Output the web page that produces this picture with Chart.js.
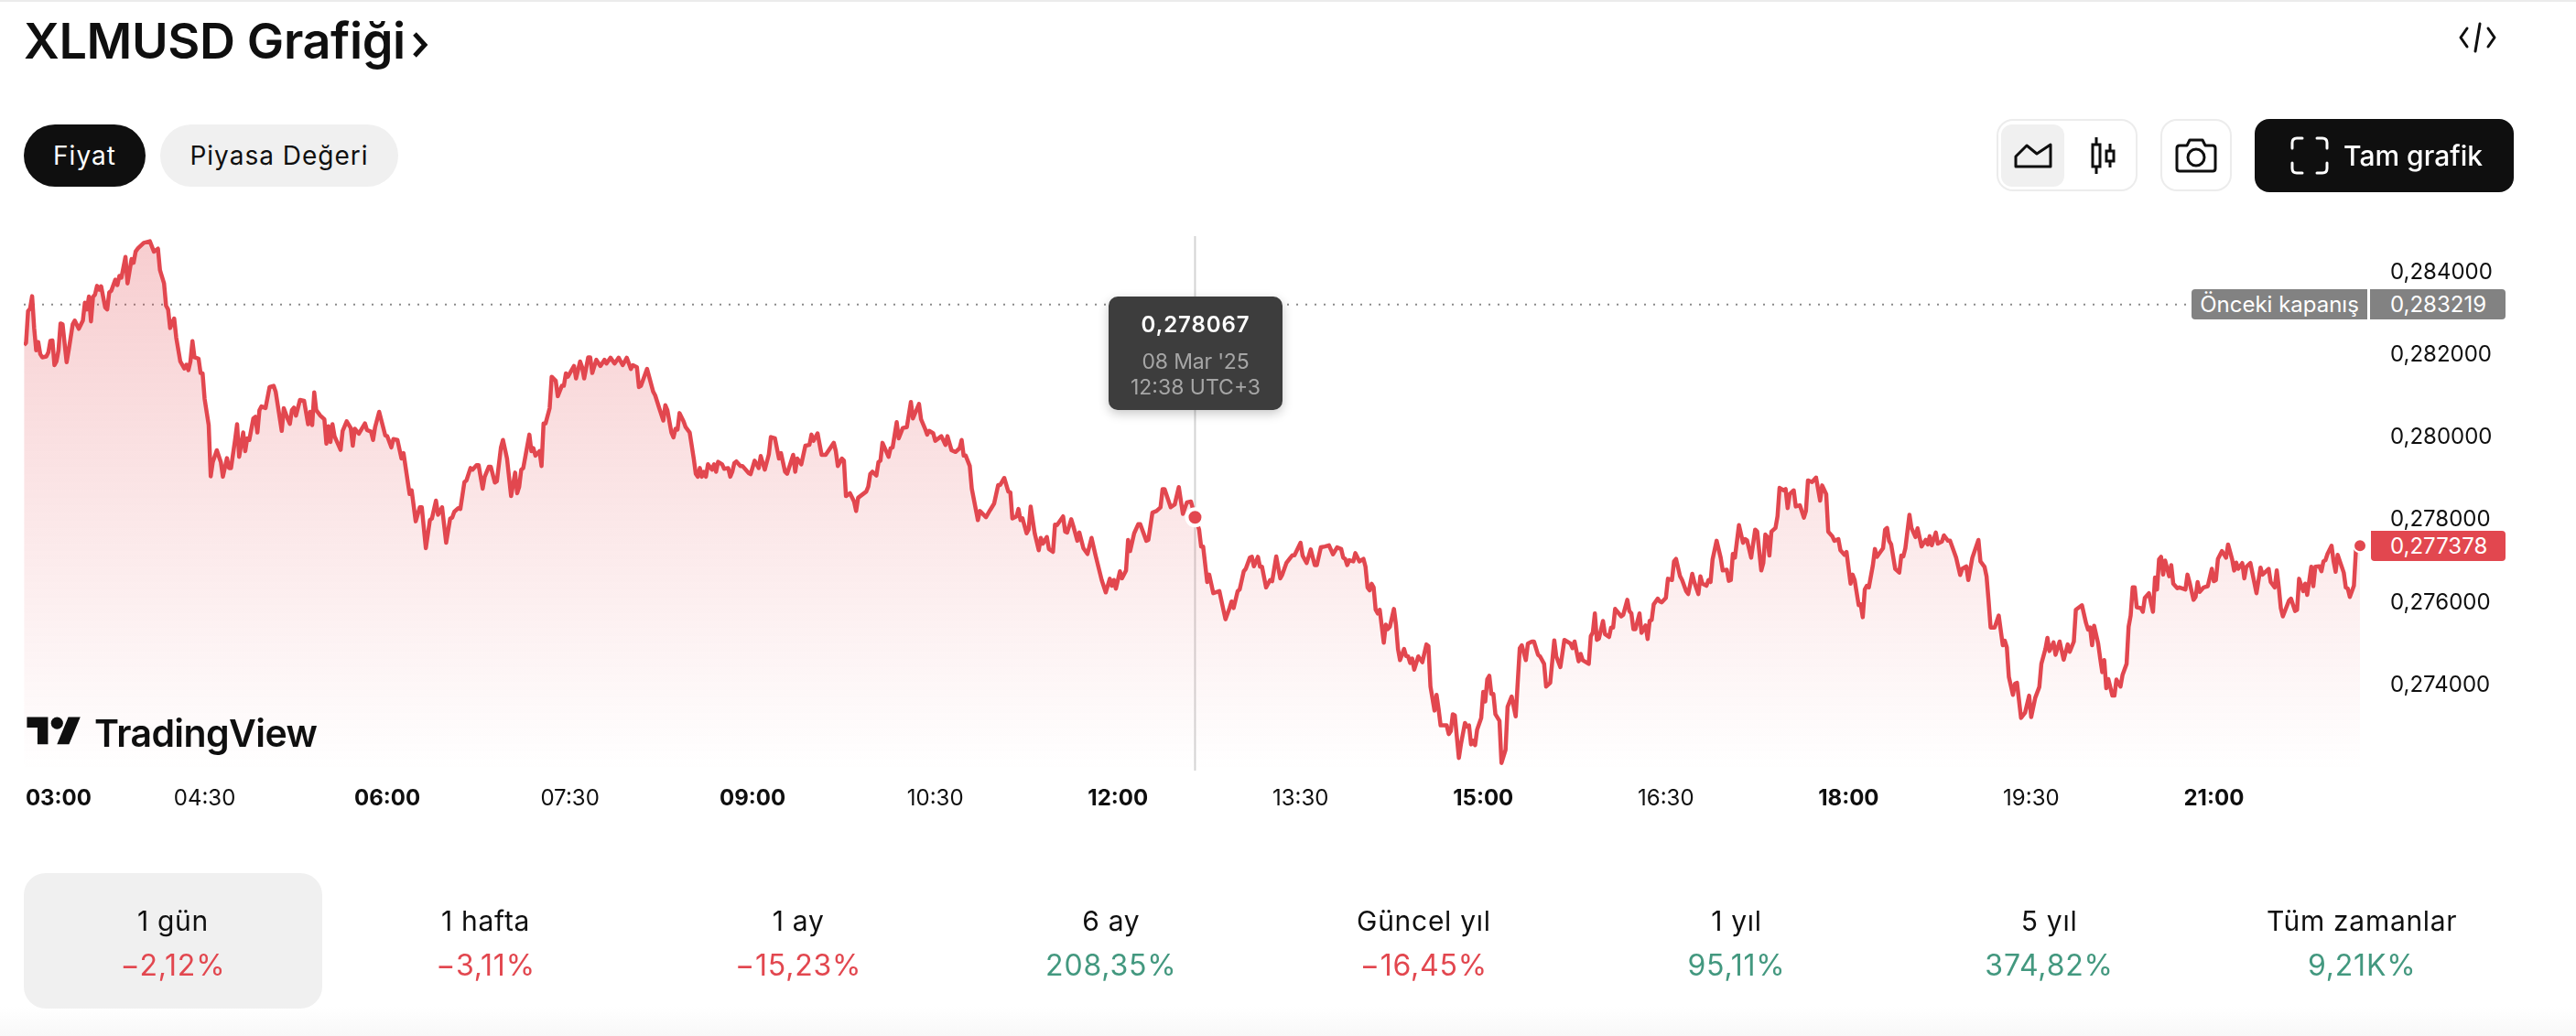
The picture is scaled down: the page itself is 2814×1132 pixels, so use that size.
<!DOCTYPE html>
<html lang="tr">
<head>
<meta charset="utf-8">
<title>XLMUSD Grafiği</title>
<script src="https://cdn.jsdelivr.net/npm/chart.js@4"></script>
<style>
html, body { margin: 0; padding: 0; background: #fff; }
body { position: relative; width: 2814px; height: 1132px; overflow: hidden; font-family: Inter, sans-serif; color: #0f0f0f; }
canvas { position: absolute; left: 0; top: 0; }
.abs { position: absolute; box-sizing: border-box; }
.topline { left: 0; top: 0; width: 2814px; height: 2px; background: #ebebeb; }
.bottomfade { left: 0; top: 1100px; width: 2814px; height: 32px; background: linear-gradient(#fff, #f8f8f8); }
.title { left: 26px; top: 10px; font-size: 54px; line-height: 70px; font-weight: 600; letter-spacing: -0.4px; white-space: nowrap; }
.pill { top: 136px; height: 68px; border-radius: 34px; font-size: 28px; line-height: 68px; letter-spacing: 1px; text-align: center; }
.pill.on { left: 26px; width: 133px; background: #0f0f0f; color: #fff; }
.pill.off { left: 175px; width: 260px; background: #f0f0f0; }
.frame { top: 130px; height: 79px; border: 2px solid #ececec; border-radius: 18px; background: #fff; }
.selected { left: 2186px; top: 136px; width: 69px; height: 68px; border-radius: 12px; background: #f0f0f0; }
.full { left: 2463px; top: 130px; width: 283px; height: 80px; border-radius: 16px; background: #0f0f0f; }
.fulltext { left: 2560px; top: 130px; height: 80px; line-height: 80px; font-size: 30px; font-weight: 500; color: #fff; white-space: nowrap; }
.logotext { left: 103px; top: 773px; font-size: 41px; line-height: 56px; font-weight: 600; letter-spacing: -0.6px; color: #0f0f0f; }
.badge { height: 33px; line-height: 33px; font-size: 24px; color: #fff; white-space: nowrap; }
.tip { left: 1211px; top: 324px; width: 190px; height: 124px; border-radius: 10px; background: #3d3d3d; box-shadow: 0 4px 12px rgba(0,0,0,.22); text-align: center; }
.tip div { position: absolute; left: 0; width: 100%; white-space: nowrap; }
.tab { top: 954px; width: 326px; height: 148px; border-radius: 24px; text-align: center; }
.tab .name { position: absolute; top: 34px; width: 100%; font-size: 30px; line-height: 36px; letter-spacing: .7px; }
.tab .pct { position: absolute; top: 83px; width: 100%; font-size: 32px; line-height: 36px; letter-spacing: .8px; }
</style>
</head>
<body>
<div class="abs bottomfade"></div>
<canvas id="priceChart" width="2814" height="1132"></canvas>
<div class="abs topline"></div>

<div class="abs title">XLMUSD Grafiği</div>
<svg class="abs" style="left:450px;top:34px" width="18" height="30" viewBox="0 0 18 30"><path d="M3 3l11 12L3 27" fill="none" stroke="#0f0f0f" stroke-width="5"/></svg>
<svg class="abs" style="left:2686px;top:24px" width="41" height="34" viewBox="0 0 41 34" fill="none" stroke="#0f0f0f" stroke-width="3" stroke-linecap="round" stroke-linejoin="round"><path d="M9 7L2 17l7 10M32 7l7 10-7 10M23 2l-5 30"/></svg>

<div class="abs pill on">Fiyat</div>
<div class="abs pill off">Piyasa Değeri</div>

<div class="abs frame" style="left:2181px;width:154px"></div>
<div class="abs selected"></div>
<svg class="abs" style="left:2200px;top:156px" width="42" height="28" viewBox="0 0 42 28" fill="none" stroke="#0f0f0f" stroke-width="3" stroke-linejoin="round"><path d="M2 26V15L14 3l11 9L40 2v24z"/></svg>
<svg class="abs" style="left:2282px;top:149px" width="30" height="42" viewBox="0 0 30 42" fill="none" stroke="#0f0f0f" stroke-width="3"><path d="M8 1v8M8 33v8M23 8v8M23 27v7"/><rect x="4" y="9" width="8" height="24"/><rect x="19" y="16" width="8" height="11"/></svg>
<div class="abs frame" style="left:2360px;width:78px"></div>
<svg class="abs" style="left:2376px;top:151px" width="46" height="38" viewBox="0 0 46 38" fill="none" stroke="#0f0f0f" stroke-width="3" stroke-linejoin="round"><path d="M2 11q0-3 3-3h8l3-6h14l3 6h8q3 0 3 3v22q0 3-3 3H5q-3 0-3-3z"/><ellipse cx="23" cy="21" rx="9" ry="9"/></svg>
<div class="abs full"></div>
<svg class="abs" style="left:2502px;top:149px" width="42" height="42" viewBox="0 0 42 42" fill="none" stroke="#fff" stroke-width="3" stroke-linecap="round"><path d="M2 13V7q0-5 5-5h6M29 2h6q5 0 5 5v6M40 29v6q0 5-5 5h-6M13 40H7q-5 0-5-5v-6"/></svg>
<div class="abs fulltext">Tam grafik</div>

<svg class="abs" style="left:29px;top:777px" width="60" height="46" viewBox="0 0 36 28" fill="#0f0f0f"><path d="M14 22H7V11H0V4h14v18zM28 22h-8l7.5-18h8L28 22z"/><circle cx="20" cy="8" r="4"/></svg>
<div class="abs logotext">TradingView</div>

<div class="abs badge" style="left:2394px;top:316px;width:192px;background:#828282;border-radius:4px 0 0 4px;text-align:center">Önceki kapanış</div>
<div class="abs badge" style="left:2589px;top:316px;width:148px;background:#828282;border-radius:0 4px 4px 0;padding-left:22px">0,283219</div>
<div class="abs badge" style="left:2590px;top:580px;width:147px;background:#e2474f;border-radius:0 4px 4px 4px;padding-left:21px">0,277378</div>

<div class="abs tip">
  <div style="top:17px;font-size:24px;line-height:28px;font-weight:600;color:#fff;letter-spacing:.9px">0,278067</div>
  <div style="top:57px;font-size:23px;line-height:28px;color:#a6a6a6;letter-spacing:-.2px">08 Mar '25</div>
  <div style="top:85px;font-size:23px;line-height:28px;color:#a6a6a6">12:38 UTC+3</div>
</div>

<div id="tabs"></div>

<script>
// minutes after 03:00 and price
const minutesA = [1,2,3,4,5,6,7,8,9,10,12,13,14,15,16,17,18,19,20,22,23,25,26,28,30,31,32,33,34,35,36,37,38,39,41,42,43,44,46,47,48,49,51,52,54,55,56,57,60,63,65,67,68,70,71,72,73,75,76,78,80,81,82,83,84,85,87,88,89,90,92,93,94,96,98,99,101,102,103,105,106,107,109,110,111,112,114,115,116,117,118,120,122,124,125,128,129,131,132,133,134,135,137,139,141,142,143,144,145,147,149,150,151,152,153,154,157,158,160,162,163,164,166,169,170,172,173,174,176,179,180,182,183,185,187,188,191,192,194,196,197,199,201,202,204,205,207,209,211,212,213,215,216,218,219,221,222,224,225,227,228,230,231,233,234,236,237,239,241,243,244,245,246,247,250,251,252,253,255,256,257,258,260,261,263,264,266,267,268,269,270,272,273,275,276,277,279,280,281,283,285,287,288,290,292,294,296,298,300,301,303,304];
const pricesA = [0.28224,0.28229,0.28306,0.28312,0.28342,0.28265,0.28211,0.28231,0.28202,0.28194,0.28196,0.28206,0.28234,0.28235,0.28175,0.28184,0.28211,0.28276,0.28274,0.28182,0.28211,0.28274,0.28283,0.28263,0.28283,0.28326,0.28310,0.28341,0.28281,0.28340,0.28346,0.28367,0.28358,0.28366,0.28315,0.28310,0.28351,0.28355,0.28382,0.28369,0.28391,0.28387,0.28437,0.28373,0.28432,0.28423,0.28450,0.28457,0.28471,0.28475,0.28450,0.28457,0.28405,0.28373,0.28319,0.28310,0.28265,0.28288,0.28242,0.28184,0.28167,0.28176,0.28163,0.28184,0.28233,0.28194,0.28191,0.28156,0.28155,0.28093,0.28030,0.27906,0.27940,0.27969,0.27940,0.27905,0.27950,0.27926,0.27926,0.27994,0.28032,0.27953,0.28012,0.27967,0.27998,0.27994,0.28046,0.28050,0.28012,0.28066,0.28075,0.28071,0.28122,0.28125,0.28111,0.28016,0.28071,0.28044,0.28033,0.28066,0.28072,0.28053,0.28091,0.28089,0.28032,0.28062,0.28030,0.28109,0.28066,0.28053,0.28044,0.27985,0.28027,0.27989,0.28032,0.28003,0.27970,0.28016,0.28039,0.28023,0.27980,0.28021,0.28009,0.28034,0.28018,0.28014,0.27994,0.28025,0.28062,0.28005,0.28003,0.27976,0.27996,0.27994,0.27949,0.27962,0.27863,0.27872,0.27797,0.27831,0.27831,0.27732,0.27800,0.27804,0.27847,0.27813,0.27831,0.27745,0.27804,0.27806,0.27820,0.27829,0.27827,0.27892,0.27896,0.27926,0.27922,0.27933,0.27933,0.27876,0.27905,0.27929,0.27929,0.27891,0.27894,0.27976,0.27994,0.27949,0.27858,0.27915,0.27865,0.27881,0.27922,0.27926,0.28007,0.27967,0.27974,0.27956,0.27967,0.27931,0.28034,0.28034,0.28071,0.28147,0.28137,0.28100,0.28125,0.28125,0.28155,0.28147,0.28156,0.28173,0.28143,0.28184,0.28170,0.28143,0.28194,0.28194,0.28156,0.28188,0.28173,0.28188,0.28179,0.28193,0.28179,0.28193,0.28175,0.28193,0.28166,0.28175,0.28170,0.28122];

const minutesB = [305,308,311,312,314,316,317,318,320,321,322,323,324,326,327,329,331,332,333,334,335,336,337,338,340,341,342,343,345,346,348,349,350,351,352,354,355,358,359,361,363,364,366,368,369,371,373,374,376,377,380,381,382,384,386,388,389,390,392,394,396,400,401,402,404,405,406,408,410,411,412,416,417,418,419,421,422,423,424,427,428,429,431,432,434,436,438,439,442,443,445,446,447,449,450,453,455,456,458,460,462,463,464,465,467,468,471,472,475,477,479,481,482,484,486,487,488,490,491,492,493,495,496,497,499,501,502,503,505,506,508,509,510,513,514,515,517,518,520,521,523,525,527,529,532,534,536,537,538,539,541,542,544,545,546,548,550,551,554,555,557,559,561,562,563,566,568,570,572,574,576,578,580,581,582,584,585,587,590,591,593,595,596,597,599,600,602,603,605,606,607,609,610,611,613,615,616,618,620];
const pricesB = [0.28125,0.28166,0.28111,0.28102,0.28071,0.28041,0.28078,0.28066,0.28012,0.28000,0.28021,0.28019,0.28059,0.28039,0.28025,0.28012,0.27949,0.27912,0.27905,0.27926,0.27905,0.27917,0.27905,0.27935,0.27922,0.27935,0.27917,0.27941,0.27935,0.27924,0.27926,0.27905,0.27917,0.27938,0.27942,0.27931,0.27931,0.27914,0.27911,0.27944,0.27926,0.27955,0.27922,0.27959,0.28001,0.27998,0.27949,0.27962,0.27917,0.27912,0.27958,0.27917,0.27949,0.27935,0.27980,0.27982,0.28007,0.27992,0.28010,0.27958,0.27958,0.27987,0.27967,0.27931,0.27949,0.27944,0.27858,0.27865,0.27845,0.27822,0.27854,0.27869,0.27881,0.27912,0.27917,0.27908,0.27940,0.27944,0.27987,0.27953,0.27974,0.27976,0.28037,0.27998,0.28023,0.28025,0.28086,0.28046,0.28081,0.28044,0.28021,0.28007,0.28016,0.28010,0.27992,0.28003,0.27982,0.28003,0.27969,0.27965,0.27974,0.27994,0.27956,0.27956,0.27931,0.27876,0.27800,0.27822,0.27807,0.27824,0.27840,0.27885,0.27885,0.27902,0.27869,0.27867,0.27804,0.27809,0.27827,0.27800,0.27804,0.27768,0.27777,0.27833,0.27768,0.27727,0.27757,0.27743,0.27759,0.27730,0.27723,0.27789,0.27788,0.27809,0.27772,0.27770,0.27802,0.27786,0.27750,0.27770,0.27732,0.27718,0.27757,0.27714,0.27655,0.27625,0.27658,0.27641,0.27655,0.27634,0.27676,0.27659,0.27678,0.27752,0.27725,0.27768,0.27790,0.27790,0.27750,0.27752,0.27818,0.27822,0.27831,0.27875,0.27875,0.27831,0.27838,0.27880,0.27815,0.27843,0.27845,0.278067,0.27777,0.27736,0.27736,0.27650,0.27668,0.27623,0.27628,0.27605,0.27560,0.27587,0.27603,0.27587,0.27628,0.27632,0.27676,0.27682,0.27709,0.27711,0.27688,0.27711,0.27687,0.27687,0.27637,0.27655,0.27652,0.27712,0.27659];

const minutesC = [621,623,625,626,627,630,631,633,635,637,638,640,642,644,646,648,650,651,652,653,654,656,657,659,661,662,663,664,665,666,667,668,669,671,672,673,674,676,677,678,679,681,682,683,684,685,686,688,690,692,693,694,696,697,698,699,702,703,704,705,706,708,709,711,712,713,714,715,716,717,719,720,721,722,723,724,725,726,728,729,731,732,734,736,738,739,741,742,744,745,747,748,750,751,753,755,756,758,760,763,764,765,767,768,769,772,773,774,775,776,777,779,780,782,783,784,785,788,789,791,792,793,794,795,797,798,800,801,802,803,804,806,807,808,810,811,813,814,815,817,818,820,821,823,824,826,827,828,830,831,832,833,835,837,838,840,841,842,843,844,846,848,849,850,852,854,855,857,858,859,860,861,862,864,865,866,868,869,870,871,873,874,876,878,879,880,882,884,886,887,889,890,892,893,895,896,898,899,901,902,903,905,906,907,908,909,910,912,913,914,915,917,918,919,920,921,923,925,926,927,928,930,931,933,934,936];
const pricesC = [0.27668,0.27696,0.27709,0.27715,0.27715,0.27745,0.27714,0.27696,0.27729,0.27691,0.27691,0.27734,0.27736,0.27739,0.27717,0.27734,0.27730,0.27709,0.27706,0.27691,0.27703,0.27700,0.27720,0.27700,0.27706,0.27687,0.27637,0.27630,0.27646,0.27637,0.27583,0.27574,0.27583,0.27503,0.27547,0.27536,0.27542,0.27585,0.27547,0.27488,0.27461,0.27488,0.27471,0.27470,0.27454,0.27465,0.27438,0.27470,0.27456,0.27499,0.27495,0.27397,0.27339,0.27377,0.27343,0.27303,0.27303,0.27282,0.27289,0.27330,0.27327,0.27224,0.27257,0.27309,0.27300,0.27303,0.27257,0.27266,0.27255,0.27293,0.27321,0.27384,0.27361,0.27415,0.27423,0.27379,0.27379,0.27330,0.27314,0.27212,0.27244,0.27348,0.27373,0.27325,0.27490,0.27497,0.27461,0.27501,0.27506,0.27506,0.27474,0.27470,0.27452,0.27397,0.27406,0.27509,0.27470,0.27444,0.27510,0.27501,0.27490,0.27506,0.27458,0.27476,0.27461,0.27452,0.27519,0.27528,0.27574,0.27510,0.27513,0.27556,0.27524,0.27517,0.27540,0.27540,0.27585,0.27567,0.27571,0.27607,0.27580,0.27574,0.27536,0.27536,0.27574,0.27527,0.27545,0.27512,0.27556,0.27558,0.27596,0.27610,0.27603,0.27601,0.27612,0.27658,0.27655,0.27700,0.27706,0.27664,0.27655,0.27628,0.27621,0.27670,0.27650,0.27621,0.27664,0.27646,0.27641,0.27655,0.27650,0.27705,0.27750,0.27709,0.27678,0.27680,0.27653,0.27655,0.27718,0.27709,0.27788,0.27745,0.27754,0.27751,0.27709,0.27777,0.27772,0.27678,0.27696,0.27765,0.27759,0.27714,0.27772,0.27781,0.27809,0.27878,0.27872,0.27875,0.27829,0.27863,0.27872,0.27833,0.27836,0.27806,0.27822,0.27896,0.27892,0.27903,0.27847,0.27884,0.27863,0.27772,0.27761,0.27750,0.27754,0.27727,0.27716,0.27723,0.27646,0.27668,0.27655,0.27594,0.27596,0.27565,0.27632,0.27641,0.27637,0.27691,0.27730,0.27711,0.27718,0.27732,0.27777,0.27781,0.27750,0.27741,0.27682,0.27673,0.27714,0.27712,0.27732,0.27813,0.27781,0.27759,0.27780,0.27736];

const minutesD = [938,939,940,941,943,944,946,947,949,950,952,953,955,956,958,959,961,964,965,967,968,969,970,972,974,976,977,978,979,981,982,983,985,987,989,990,992,994,995,997,998,999,1001,1002,1004,1006,1008,1009,1011,1012,1015,1017,1018,1019,1020,1021,1023,1024,1025,1026,1027,1028,1030,1031,1032,1034,1035,1037,1038,1039,1040,1041,1042,1044,1045,1046,1048,1050,1051,1052,1053,1054,1055,1056,1058,1059,1060,1062,1063,1066,1067,1068,1070,1071,1072,1073,1075,1077,1079,1080,1081,1082,1084,1086,1087,1089,1090,1091,1092,1094,1095,1096,1098,1101,1103,1104,1107,1108,1110,1111,1112,1113,1114,1117,1118,1120,1121,1122,1124,1125,1126,1128,1129,1130,1132,1133,1134,1135,1136,1138,1139,1140,1141,1144,1145,1146,1147,1149,1150,1152];
const pricesD = [0.27752,0.27741,0.27761,0.27739,0.27770,0.27743,0.27748,0.27763,0.27750,0.27750,0.27723,0.27709,0.27667,0.27682,0.27688,0.27655,0.27709,0.27752,0.27700,0.27687,0.27664,0.27605,0.27540,0.27540,0.27569,0.27497,0.27508,0.27492,0.27420,0.27377,0.27404,0.27406,0.27321,0.27334,0.27375,0.27323,0.27370,0.27396,0.27452,0.27488,0.27515,0.27483,0.27504,0.27474,0.27506,0.27462,0.27499,0.27481,0.27506,0.27583,0.27594,0.27551,0.27535,0.27540,0.27497,0.27544,0.27501,0.27465,0.27432,0.27461,0.27393,0.27415,0.27375,0.27375,0.27414,0.27397,0.27425,0.27452,0.27542,0.27569,0.27637,0.27637,0.27589,0.27587,0.27578,0.27612,0.27623,0.27578,0.27661,0.27632,0.27705,0.27711,0.27668,0.27702,0.27664,0.27691,0.27646,0.27635,0.27637,0.27632,0.27668,0.27650,0.27607,0.27614,0.27650,0.27626,0.27637,0.27640,0.27682,0.27652,0.27655,0.27706,0.27725,0.27709,0.27741,0.27705,0.27678,0.27697,0.27682,0.27696,0.27659,0.27687,0.27696,0.27623,0.27685,0.27668,0.27682,0.27650,0.27637,0.27678,0.27637,0.27587,0.27567,0.27605,0.27610,0.27580,0.27583,0.27658,0.27628,0.27646,0.27619,0.27687,0.27640,0.27687,0.27688,0.27676,0.27700,0.27703,0.27718,0.27738,0.27700,0.27675,0.27716,0.27673,0.27637,0.27634,0.27614,0.27641,0.27727,0.277378];

const minutes = minutesA.concat(minutesB, minutesC, minutesD);
const prices = pricesA.concat(pricesB, pricesC, pricesD);

const yTicks = [0.274, 0.276, 0.278, 0.28, 0.282, 0.284];
const xTickMinutes = [0, 90, 180, 270, 360, 450, 540, 630, 720, 810, 900, 990, 1080];
const xTickLabels = ["03:00", "04:30", "06:00", "07:30", "09:00", "10:30", "12:00", "13:30", "15:00", "16:30", "18:00", "19:30", "21:00"];
const previousClose = 0.283219;
const hoverMinute = 578;

const periods = ["1 gün", "1 hafta", "1 ay", "6 ay", "Güncel yıl", "1 yıl", "5 yıl", "Tüm zamanlar"];
const changes = ["−2,12%", "−3,11%", "−15,23%", "208,35%", "−16,45%", "95,11%", "374,82%", "9,21K%"];

const RED = "#e2474f";
const GREEN = "#43987f";

// period tabs under the chart
const tabs = document.getElementById("tabs");
periods.forEach(function (name, i) {
    let tab = document.createElement("div");
    tab.className = "abs tab";
    tab.style.left = 26 + i * 341.6 + "px";
    if (i === 0) tab.style.background = "#f0f0f0";
    let color = changes[i].startsWith("−") ? RED : GREEN;
    tab.innerHTML = '<div class="name">' + name + '</div><div class="pct" style="color:' + color + '">' + changes[i] + "</div>";
    tabs.appendChild(tab);
});

// crosshair and dotted previous close line go under the price line
const guides = {
    id: "guides",
    beforeDatasetsDraw: function (chart) {
        const c = chart.ctx;
        const area = chart.chartArea;
        const hx = chart.scales.x.getPixelForValue(hoverMinute);
        const py = chart.scales.y.getPixelForValue(previousClose);
        c.save();
        c.strokeStyle = "#d4d4d4";
        c.lineWidth = 2;
        c.beginPath();
        c.moveTo(hx, area.top);
        c.lineTo(hx, area.bottom);
        c.stroke();
        c.strokeStyle = "#8a8a8a";
        c.setLineDash([2, 8]);
        c.beginPath();
        c.moveTo(area.left, py);
        c.lineTo(2388, py);
        c.stroke();
        c.restore();
    },
};

const canvas = document.getElementById("priceChart");
const ctx = canvas.getContext("2d");
const fillGradient = ctx.createLinearGradient(0, 262, 0, 842);
fillGradient.addColorStop(0, "rgba(226,71,79,0.27)");
fillGradient.addColorStop(1, "rgba(226,71,79,0)");

new Chart(canvas, {
    type: "line",
    data: {
        datasets: [
            {
                data: minutes.map(function (m, i) {
                    return { x: m, y: prices[i] };
                }),
                borderColor: RED,
                borderWidth: 4.5,
                borderJoinStyle: "round",
                backgroundColor: fillGradient,
                fill: "start",
                tension: 0,
                pointBackgroundColor: RED,
                pointBorderColor: "#fff",
                pointBorderWidth: function (c) {
                    return c.raw.x === hoverMinute ? 4 : 2;
                },
                pointRadius: function (c) {
                    if (c.raw.x === hoverMinute) return 9;
                    return c.dataIndex === minutes.length - 1 ? 7 : 0;
                },
            },
        ],
    },
    options: {
        responsive: false,
        animation: false,
        layout: { padding: { left: 26, top: 258, right: 0, bottom: 0 } },
        plugins: { legend: { display: false }, tooltip: { enabled: false } },
        events: [],
        scales: {
            x: {
                type: "linear",
                min: 0.9,
                max: 1157.4,
                grid: { display: false, drawTicks: false },
                border: { display: false },
                afterFit: function (s) {
                    s.height = 290;
                },
                afterBuildTicks: function (s) {
                    // first label is pushed right so it stays inside the plot
                    s.ticks = xTickMinutes.map(function (m) {
                        return { value: m === 0 ? 18 : m };
                    });
                },
                ticks: {
                    autoSkip: false,
                    maxRotation: 0,
                    padding: 16,
                    color: "#0f0f0f",
                    font: function (c) {
                        let major = c.index % 2 === 0;
                        return { family: "Inter", size: 24, weight: major ? "700" : "400" };
                    },
                    callback: function (v, i) {
                        return xTickLabels[i];
                    },
                },
            },
            y: {
                position: "right",
                min: 0.271936,
                max: 0.284874,
                grid: { display: false, drawTicks: false },
                border: { display: false },
                afterFit: function (s) {
                    s.width = 224;
                },
                afterBuildTicks: function (s) {
                    s.ticks = yTicks.map(function (v) {
                        return { value: v };
                    });
                },
                ticks: {
                    padding: 21,
                    color: "#0f0f0f",
                    font: { family: "Inter", size: 24 },
                    callback: function (v) {
                        return v.toFixed(6).replace(".", ",");
                    },
                },
            },
        },
    },
    plugins: [guides],
});
</script>
</body>
</html>
